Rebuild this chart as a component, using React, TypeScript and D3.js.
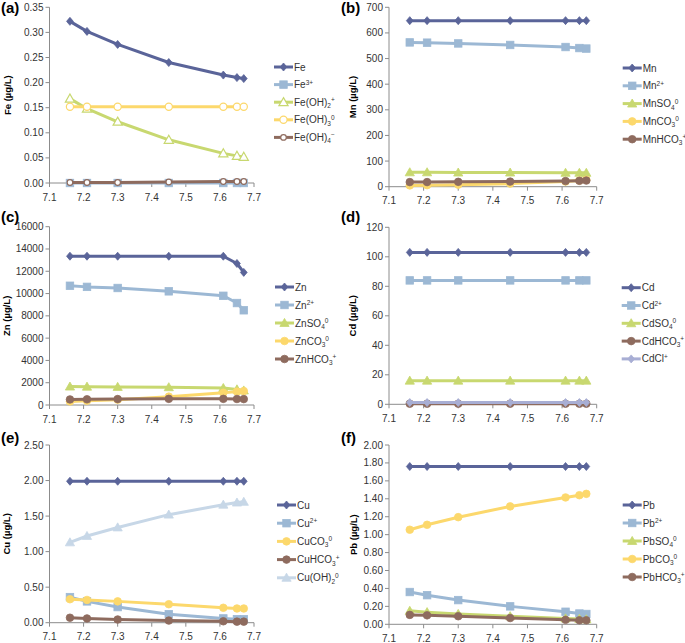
import React from 'react';
import * as d3 from 'd3';

const pH = [7.16, 7.21, 7.3, 7.45, 7.61, 7.65, 7.67];
const xTicks = [7.1, 7.2, 7.3, 7.4, 7.5, 7.6, 7.7];

// (a) Fe
const feTotal = [0.322, 0.302, 0.276, 0.24, 0.215, 0.21, 0.208];
const fe3 = [0, 0, 0, 0, 0, 0, 0];
const feOH2 = [0.168, 0.148, 0.122, 0.086, 0.059, 0.054, 0.052];
const feOH3 = [0.152, 0.152, 0.152, 0.152, 0.152, 0.152, 0.152];
const feOH4 = [0.001, 0.001, 0.001, 0.002, 0.003, 0.003, 0.003];
// (b) Mn
const mnTotal = [648, 648, 648, 648, 648, 648, 648];
const mn2 = [563, 562, 559, 553, 545, 541, 539];
const mnSO4 = [56, 56, 55, 55, 54, 54, 54];
const mnCO3 = [5, 6, 8, 12, 20, 24, 27];
const mnHCO3 = [18, 18, 19, 20, 22, 23, 24];
// (c) Zn
const znTotal = [13350, 13350, 13350, 13350, 13350, 12700, 11900];
const zn2 = [10700, 10600, 10500, 10200, 9800, 9150, 8500];
const znSO4 = [1650, 1640, 1620, 1590, 1520, 1400, 1300];
const znCO3 = [320, 380, 480, 750, 1100, 1200, 1250];
const znHCO3 = [500, 510, 530, 550, 550, 540, 530];
// (d) Cd
const cdTotal = [103, 103, 103, 103, 103, 103, 103];
const cd2 = [84, 84, 84, 84, 84, 84, 84];
const cdSO4 = [16, 16, 16, 16, 16, 16, 16];
const cdHCO3 = [0.4, 0.4, 0.4, 0.4, 0.4, 0.4, 0.4];
const cdCl = [1.2, 1.2, 1.2, 1.2, 1.2, 1.2, 1.2];
// (e) Cu
const cuTotal = [1.99, 1.99, 1.99, 1.99, 1.99, 1.99, 1.99];
const cu2 = [0.36, 0.3, 0.22, 0.12, 0.06, 0.05, 0.05];
const cuCO3 = [0.33, 0.32, 0.3, 0.26, 0.21, 0.2, 0.2];
const cuHCO3 = [0.07, 0.06, 0.045, 0.03, 0.02, 0.015, 0.015];
const cuOH2 = [1.13, 1.22, 1.34, 1.52, 1.66, 1.69, 1.7];
// (f) Pb
const pbTotal = [1.76, 1.76, 1.76, 1.76, 1.76, 1.76, 1.76];
const pb2 = [0.36, 0.325, 0.27, 0.2, 0.14, 0.12, 0.115];
const pbSO4 = [0.15, 0.135, 0.115, 0.09, 0.065, 0.06, 0.055];
const pbCO3 = [1.055, 1.11, 1.195, 1.315, 1.415, 1.44, 1.455];
const pbHCO3 = [0.105, 0.1, 0.09, 0.07, 0.05, 0.045, 0.045];

const C = {
  dark: '#5A6499',
  lblue: '#9CB8D4',
  ygreen: '#C8D870',
  yellow: '#FCD86C',
  brown: '#8E6B5E',
  lav: '#A8AED4',
  pale: '#C7D7E7',
};

type Part = [string, string?];
type Series = { label: Part[]; values: number[]; color: string; marker: string; open?: boolean };

const FONT = "'Liberation Sans', Arial, sans-serif";

const panels = [
  {
    tag: '(a)', ox: 0, oy: 0, left: 49.5, right: 254, top: 7.3, bottom: 183, yMax: 0.35, yStep: 0.05, fmt: '.2f',
    yTitle: 'Fe (\u00b5g/L)', titleX: 8, legX: 274, legY: 67, legDy: 17.6, tagY: 13,
    series: [
      { label: [['Fe']], values: feTotal, color: C.dark, marker: 'diamond' },
      { label: [['Fe'], ['3+', 'sup']], values: fe3, color: C.lblue, marker: 'square' },
      { label: [['Fe(OH)'], ['2', 'sub'], ['+', 'sup']], values: feOH2, color: C.ygreen, marker: 'triangle', open: true },
      { label: [['Fe(OH)'], ['3', 'sub'], ['0', 'sup']], values: feOH3, color: C.yellow, marker: 'circle', open: true },
      { label: [['Fe(OH)'], ['4', 'sub'], ['\u2212', 'sup']], values: feOH4, color: C.brown, marker: 'smallcircle', open: true },
    ] as Series[],
  },
  {
    tag: '(b)', ox: 340, oy: 0, left: 49, right: 256.7, top: 7.3, bottom: 186.7, yMax: 700, yStep: 100, fmt: 'd',
    yTitle: 'Mn (\u00b5g/L)', titleX: 13, legX: 282.7, legY: 68, legDy: 17.8, tagY: 13,
    series: [
      { label: [['Mn']], values: mnTotal, color: C.dark, marker: 'diamond' },
      { label: [['Mn'], ['2+', 'sup']], values: mn2, color: C.lblue, marker: 'square' },
      { label: [['MnSO'], ['4', 'sub'], ['0', 'sup']], values: mnSO4, color: C.ygreen, marker: 'triangle' },
      { label: [['MnCO'], ['3', 'sub'], ['0', 'sup']], values: mnCO3, color: C.yellow, marker: 'circle' },
      { label: [['MnHCO'], ['3', 'sub'], ['+', 'sup']], values: mnHCO3, color: C.brown, marker: 'circle' },
    ] as Series[],
  },
  {
    tag: '(c)', ox: 0, oy: 210, left: 49.5, right: 254, top: 16.7, bottom: 195, yMax: 16000, yStep: 2000, fmt: 'd',
    yTitle: 'Zn (\u00b5g/L)', titleX: 7, legX: 275, legY: 77, legDy: 18, tagY: 12,
    series: [
      { label: [['Zn']], values: znTotal, color: C.dark, marker: 'diamond' },
      { label: [['Zn'], ['2+', 'sup']], values: zn2, color: C.lblue, marker: 'square' },
      { label: [['ZnSO'], ['4', 'sub'], ['0', 'sup']], values: znSO4, color: C.ygreen, marker: 'triangle' },
      { label: [['ZnCO'], ['3', 'sub'], ['0', 'sup']], values: znCO3, color: C.yellow, marker: 'circle' },
      { label: [['ZnHCO'], ['3', 'sub'], ['+', 'sup']], values: znHCO3, color: C.brown, marker: 'circle' },
    ] as Series[],
  },
  {
    tag: '(d)', ox: 340, oy: 210, left: 49, right: 256.7, top: 17.3, bottom: 194.3, yMax: 120, yStep: 20, fmt: 'd',
    yTitle: 'Cd (\u00b5g/L)', titleX: 13, legX: 281.7, legY: 77.7, legDy: 17.8, tagY: 12,
    series: [
      { label: [['Cd']], values: cdTotal, color: C.dark, marker: 'diamond' },
      { label: [['Cd'], ['2+', 'sup']], values: cd2, color: C.lblue, marker: 'square' },
      { label: [['CdSO'], ['4', 'sub'], ['0', 'sup']], values: cdSO4, color: C.ygreen, marker: 'triangle' },
      { label: [['CdHCO'], ['3', 'sub'], ['+', 'sup']], values: cdHCO3, color: C.brown, marker: 'circle' },
      { label: [['CdCl'], ['+', 'sup']], values: cdCl, color: C.lav, marker: 'diamond' },
    ] as Series[],
  },
  {
    tag: '(e)', ox: 0, oy: 420, left: 49.5, right: 254, top: 25, bottom: 202.7, yMax: 2.5, yStep: 0.5, fmt: '.2f',
    yTitle: 'Cu (\u00b5g/L)', titleX: 7, legX: 277, legY: 85, legDy: 18.2, tagY: 23,
    series: [
      { label: [['Cu']], values: cuTotal, color: C.dark, marker: 'diamond' },
      { label: [['Cu'], ['2+', 'sup']], values: cu2, color: C.lblue, marker: 'square' },
      { label: [['CuCO'], ['3', 'sub'], ['0', 'sup']], values: cuCO3, color: C.yellow, marker: 'circle' },
      { label: [['CuHCO'], ['3', 'sub'], ['+', 'sup']], values: cuHCO3, color: C.brown, marker: 'circle' },
      { label: [['Cu(OH)'], ['2', 'sub'], ['0', 'sup']], values: cuOH2, color: C.pale, marker: 'triangle' },
    ] as Series[],
  },
  {
    tag: '(f)', ox: 340, oy: 420, left: 49, right: 256.7, top: 25, bottom: 204.3, yMax: 2, yStep: 0.2, fmt: '.2f',
    yTitle: 'Pb (\u00b5g/L)', titleX: 14, legX: 282.7, legY: 85, legDy: 18, tagY: 23,
    series: [
      { label: [['Pb']], values: pbTotal, color: C.dark, marker: 'diamond' },
      { label: [['Pb'], ['2+', 'sup']], values: pb2, color: C.lblue, marker: 'square' },
      { label: [['PbSO'], ['4', 'sub'], ['0', 'sup']], values: pbSO4, color: C.ygreen, marker: 'triangle' },
      { label: [['PbCO'], ['3', 'sub'], ['0', 'sup']], values: pbCO3, color: C.yellow, marker: 'circle' },
      { label: [['PbHCO'], ['3', 'sub'], ['+', 'sup']], values: pbHCO3, color: C.brown, marker: 'circle' },
    ] as Series[],
  },
];

function Marker({ kind, x, y, color, open }: { kind: string; x: number; y: number; color: string; open?: boolean }) {
  const fill = open ? '#fff' : color;
  const sw = open ? 1.2 : 0.8;
  if (kind === 'diamond') {
    const r = 4;
    return <path d={`M${x},${y - r}L${x + r * 0.85},${y}L${x},${y + r}L${x - r * 0.85},${y}Z`} fill={fill} stroke={color} strokeWidth={sw} />;
  }
  if (kind === 'square') {
    const s = 7.5;
    return <rect x={x - s / 2} y={y - s / 2} width={s} height={s} fill={fill} stroke={color} strokeWidth={sw} />;
  }
  if (kind === 'triangle') {
    const r = 4.6;
    return <path d={`M${x},${y - r}L${x + r},${y + r * 0.75}L${x - r},${y + r * 0.75}Z`} fill={fill} stroke={color} strokeWidth={sw} />;
  }
  if (kind === 'smallcircle') {
    return <circle cx={x} cy={y} r={2.8} fill={fill} stroke={color} strokeWidth={sw} />;
  }
  return <circle cx={x} cy={y} r={open ? 3.6 : 3.8} fill={fill} stroke={color} strokeWidth={sw} />;
}

function Label({ parts, x, y }: { parts: Part[]; x: number; y: number }) {
  let cur = 0;
  return (
    <text x={x} y={y} fontFamily={FONT} fontSize={10} fill="#333">
      {parts.map(([t, k], i) => {
        const off = k === 'sub' ? 2.5 : k === 'sup' ? -3.5 : 0;
        const dy = off - cur;
        cur = off;
        return (
          <tspan key={i} dy={dy} fontSize={k ? 6.5 : 10}>
            {t}
          </tspan>
        );
      })}
    </text>
  );
}

function Panel({ cfg }: { cfg: (typeof panels)[number] }) {
  const x = d3.scaleLinear().domain([7.1, 7.7]).range([cfg.left, cfg.right]);
  const y = d3.scaleLinear().domain([0, cfg.yMax]).range([cfg.bottom, cfg.top]);
  const yTicks = d3.range(0, cfg.yMax + cfg.yStep / 2, cfg.yStep);
  const fmt = d3.format(cfg.fmt);
  const line = d3
    .line<number>()
    .x((_, i) => x(pH[i]))
    .y((d) => y(d));
  const axisColor = '#8c8c8c';
  const midY = (cfg.top + cfg.bottom) / 2;
  return (
    <g transform={`translate(${cfg.ox},${cfg.oy})`}>
      <text x={1} y={cfg.tagY} fontFamily={FONT} fontSize={15} fontWeight="bold" fill="#000">
        {cfg.tag}
      </text>
      <text
        transform={`translate(${cfg.titleX + 3},${midY}) rotate(-90)`}
        textAnchor="middle"
        fontFamily={FONT}
        fontSize={9.5}
        fontWeight="bold"
        fill="#000"
      >
        {cfg.yTitle}
      </text>
      {yTicks.map((t) => (
        <g key={'y' + t}>
          <line x1={cfg.left - 4} x2={cfg.left} y1={y(t)} y2={y(t)} stroke={axisColor} />
          <text x={cfg.left - 6} y={y(t) + 3.5} textAnchor="end" fontFamily={FONT} fontSize={10} fill="#333">
            {fmt(t)}
          </text>
        </g>
      ))}
      {xTicks.map((t) => (
        <g key={'x' + t}>
          <line x1={x(t)} x2={x(t)} y1={cfg.bottom} y2={cfg.bottom + 4} stroke={axisColor} />
          <text x={x(t)} y={cfg.bottom + 17.5} textAnchor="middle" fontFamily={FONT} fontSize={10} fill="#333">
            {t.toFixed(1)}
          </text>
        </g>
      ))}
      <line x1={cfg.left} x2={cfg.left} y1={cfg.top} y2={cfg.bottom} stroke={axisColor} />
      <line x1={cfg.left} x2={cfg.right} y1={cfg.bottom} y2={cfg.bottom} stroke={axisColor} />
      {cfg.series.map((s, si) => (
        <g key={'s' + si}>
          <path d={line(s.values) || ''} fill="none" stroke={s.color} strokeWidth={3} strokeLinejoin="round" />
          {s.values.map((v, i) => (
            <Marker key={i} kind={s.marker} x={x(pH[i])} y={y(v)} color={s.color} open={s.open} />
          ))}
        </g>
      ))}
      {cfg.series.map((s, si) => {
        const ly = cfg.legY + si * cfg.legDy;
        return (
          <g key={'l' + si}>
            <line x1={cfg.legX} x2={cfg.legX + 19} y1={ly} y2={ly} stroke={s.color} strokeWidth={3} />
            <Marker kind={s.marker} x={cfg.legX + 9.5} y={ly} color={s.color} open={s.open} />
            <Label parts={s.label} x={cfg.legX + 20} y={ly + 3.5} />
          </g>
        );
      })}
    </g>
  );
}

export default function App() {
  return (
    <svg width={685} height={643} style={{ position: 'absolute', left: 0, top: 0, background: '#fff' }}>
      <rect width={685} height={643} fill="#fff" />
      {panels.map((p) => (
        <Panel key={p.tag} cfg={p} />
      ))}
    </svg>
  );
}
